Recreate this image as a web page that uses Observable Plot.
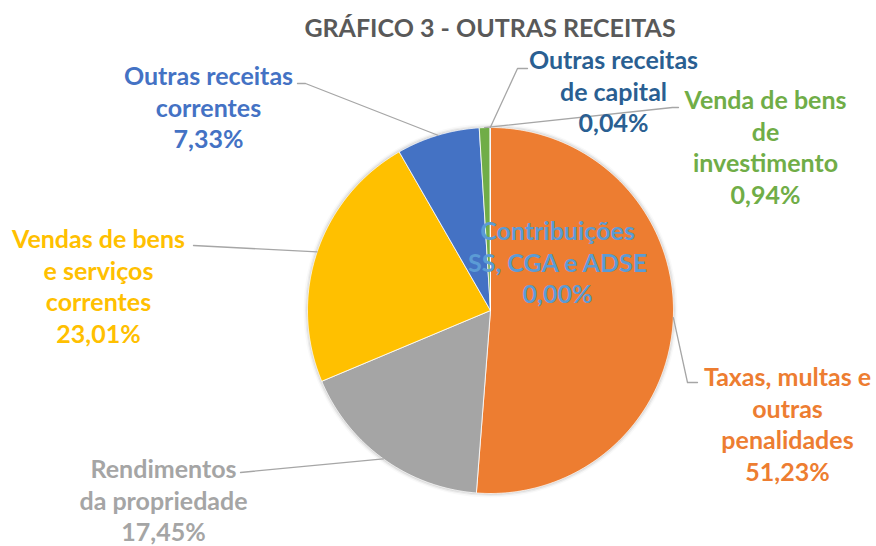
<!DOCTYPE html>
<html><head><meta charset="utf-8">
<script src="https://cdn.jsdelivr.net/npm/d3@7"></script>
<script src="https://cdn.jsdelivr.net/npm/@observablehq/plot@0.6"></script>
<style>
body{margin:0;background:#fff;font-family:Lato,"Open Sans",sans-serif;}
#title{box-sizing:border-box;width:876px;height:40px;padding:14px 0 0 104px;text-align:center;font-size:25px;line-height:26px;font-weight:bold;color:#595959;white-space:nowrap;}
</style></head><body>
<div id="title">GRÁFICO 3 - OUTRAS RECEITAS</div>
<div id="chart"></div>
<script>
// ---- data ----
const categories = [
  "Taxas, multas e outras penalidades",
  "Rendimentos da propriedade",
  "Vendas de bens e serviços correntes",
  "Outras receitas correntes",
  "Venda de bens de investimento",
  "Outras receitas de capital",
  "Contribuições SS, CGA e ADSE"
];
const values = [51.23, 17.45, 23.01, 7.33, 0.94, 0.04, 0.00];
const valueLabels = ["51,23%", "17,45%", "23,01%", "7,33%", "0,94%", "0,04%", "0,00%"];
const labelLines = [
  ["Taxas, multas e", "outras", "penalidades"],
  ["Rendimentos", "da propriedade"],
  ["Vendas de bens", "e serviços", "correntes"],
  ["Outras receitas", "correntes"],
  ["Venda de bens", "de", "investimento"],
  ["Outras receitas", "de capital"],
  ["Contribuições", "SS, CGA e ADSE"]
];
const colors = ["#ED7D31", "#A5A5A5", "#FFC000", "#4472C4", "#70AD47", "#2A5F92", "#5B9BD5"];

// ---- layout (page pixels) ----
const CX = 490, CY = 310, R = 183, TOP = 40, W = 876, H = 546 - TOP;
const labelPos = [ [787, 423], [163, 499], [98, 285], [208, 106], [765, 146], [613, 90], [557, 261] ];
const leaderBends = [
  [[687, 382], [697, 382]],
  [[240, 472]],
  [[193, 245]],
  [[305, 83], [297, 83]],
  [[672, 107], [678, 107]],
  [[517, 68], [527, 68]],
  null
];
const ux = px => (px - CX) / R;
const uy = py => (CY - py) / R;

// ---- geometry via d3.pie ----
const arcs = d3.pie().sort(null).value(d => d)(values);
const slices = [];
arcs.forEach((a, i) => {
  if (a.endAngle - a.startAngle <= 0) return;
  const n = Math.max(2, Math.ceil((a.endAngle - a.startAngle) / 0.005));
  slices.push({cat: categories[i], x: 0, y: 0});
  for (let k = 0; k <= n; k++) {
    const t = a.startAngle + (a.endAngle - a.startAngle) * k / n;
    slices.push({cat: categories[i], x: Math.sin(t), y: Math.cos(t)});
  }
  slices.push({cat: categories[i], x: 0, y: 0});
});
const leaders = [];
arcs.forEach((a, i) => {
  if (!leaderBends[i]) return;
  const m = (a.startAngle + a.endAngle) / 2;
  leaders.push({cat: categories[i], x: Math.sin(m), y: Math.cos(m)});
  leaderBends[i].forEach(([px, py]) => leaders.push({cat: categories[i], x: ux(px), y: uy(py)}));
});
const labels = categories.map((c, i) => ({
  cat: c, x: ux(labelPos[i][0]), y: uy(labelPos[i][1]),
  text: labelLines[i].concat([valueLabels[i]]).join("\n")
}));
const shadow = [{x: 0, y: 0, r: R + 4, o: 0.025}, {x: 0, y: 0, r: R + 2.5, o: 0.05}, {x: 0, y: 0, r: R + 1.2, o: 0.08}];

const chart = Plot.plot({
  width: W, height: H,
  margin: 0,
  style: {fontFamily: "Lato, 'Open Sans', sans-serif", background: "#fff"},
  x: {domain: [-1, 1], range: [CX - R, CX + R], axis: null},
  y: {domain: [-1, 1], range: [CY - TOP + R, CY - TOP - R], axis: null},
  r: {type: "identity"},
  color: {domain: categories, range: colors},
  marks: [
    Plot.dot(shadow, {x: "x", y: "y", r: "r", fill: "#000", fillOpacity: "o", stroke: null}),
    Plot.line(slices, {x: "x", y: "y", z: "cat", fill: "cat", stroke: "white", strokeWidth: 0.8, curve: "linear"}),
    Plot.line(leaders, {x: "x", y: "y", z: "cat", stroke: "#A6A6A6", strokeWidth: 1.3, curve: "linear"}),
    Plot.text(labels, {x: "x", y: "y", text: "text", fill: "cat", fontSize: 25, fontWeight: "bold", lineHeight: 1.26, lineAnchor: "middle", textAnchor: "middle"})
  ]
});
document.getElementById("chart").appendChild(chart);
</script>
</body></html>
